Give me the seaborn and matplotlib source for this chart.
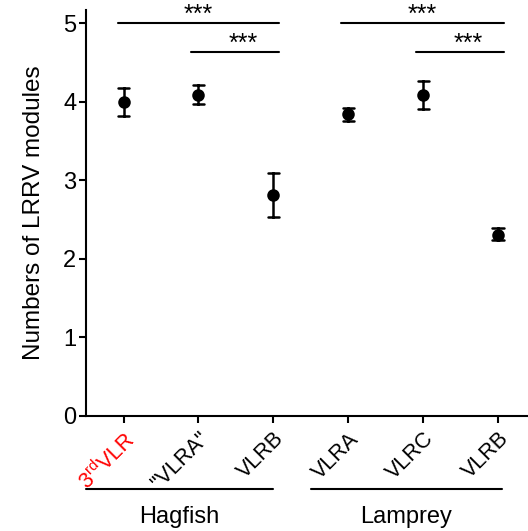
import numpy as np
import pandas as pd
import matplotlib.pyplot as plt
import seaborn as sns

# mean and error-bar ends
groups = ["3rdVLR", "\"VLRA\"", "VLRB_h", "VLRA", "VLRC", "VLRB_l"]
tick_labels = [r"3$^{\mathrm{rd}}$VLR", "\"VLRA\"", "VLRB", "VLRA", "VLRC", "VLRB"]
tick_colors = ["red", "black", "black", "black", "black", "black"]
means = [4.00, 4.09, 2.81, 3.84, 4.09, 2.31]
lows = [3.82, 3.97, 2.54, 3.76, 3.91, 2.24]
highs = [4.18, 4.22, 3.10, 3.92, 4.26, 2.39]

sns.set_style("ticks", {"axes.edgecolor": "black", "xtick.color": "black",
                        "ytick.color": "black", "text.color": "black",
                        "axes.labelcolor": "black"})
plt.rcParams["font.family"] = ["Liberation Sans", "DejaVu Sans"]
plt.rcParams["mathtext.fontset"] = "custom"
plt.rcParams["mathtext.rm"] = "Liberation Sans"

# long table: median of (low, mean, high) is the mean, 100% interval is low..high
df = pd.DataFrame({
    "group": np.repeat(groups, 3),
    "value": np.ravel(np.column_stack([lows, means, highs])),
})

fig = plt.figure(figsize=(5.28, 5.31), dpi=100)
ax = fig.add_axes([0.163, 0.2166, 0.837, 0.7645])

sns.pointplot(data=df, x="group", y="value", order=groups, estimator="median",
              errorbar=("pi", 100), linestyle="none", color="black",
              markersize=7, capsize=0.15, err_kws={"linewidth": 1.8}, ax=ax)

ax.set_xlim(-0.5, 5.4)
ax.set_ylim(0, 5.17)
ax.set_yticks([0, 1, 2, 3, 4, 5])
ax.tick_params(axis="y", width=1.5, length=5, labelsize=17, direction="out", pad=2)
ax.tick_params(axis="x", width=1.5, length=5, labelsize=15.5, direction="out", pad=4)
ax.set_xticks(range(6))
ax.set_xticklabels(tick_labels, rotation=45, ha="right", rotation_mode="anchor")
for lab, c in zip(ax.get_xticklabels(), tick_colors):
    lab.set_color(c)
ax.set_xlabel("")
ax.set_ylabel("Numbers of LRRV modules", fontsize=17.5, labelpad=13)
for s in ["left", "bottom"]:
    ax.spines[s].set_linewidth(1.5)
sns.despine(ax=ax)

# significance bars
sig = [(-0.08, 2.08, 5.0), (0.9, 2.07, 4.63), (2.9, 5.08, 5.0), (3.9, 5.08, 4.63)]
for x0, x1, y in sig:
    ax.plot([x0, x1], [y, y], color="black", lw=1.5, clip_on=False)
    ax.text((x0 + x1) / 2 if x1 - x0 > 1.5 else x0 + 0.6 * (x1 - x0), y + 0.015, "***",
            ha="center", va="baseline", fontsize=18)

# group underlines and names
trans = ax.get_xaxis_transform()
for x0, x1, name in [(-0.5, 1.99, "Hagfish"), (2.5, 5.05, "Lamprey")]:
    ax.plot([x0, x1], [-0.18, -0.18], color="black", lw=1.5, transform=trans, clip_on=False)
    ax.text((x0 + x1) / 2, -0.222, name, ha="center", va="top", fontsize=17, transform=trans)

fig.savefig("out.png", dpi=100)
